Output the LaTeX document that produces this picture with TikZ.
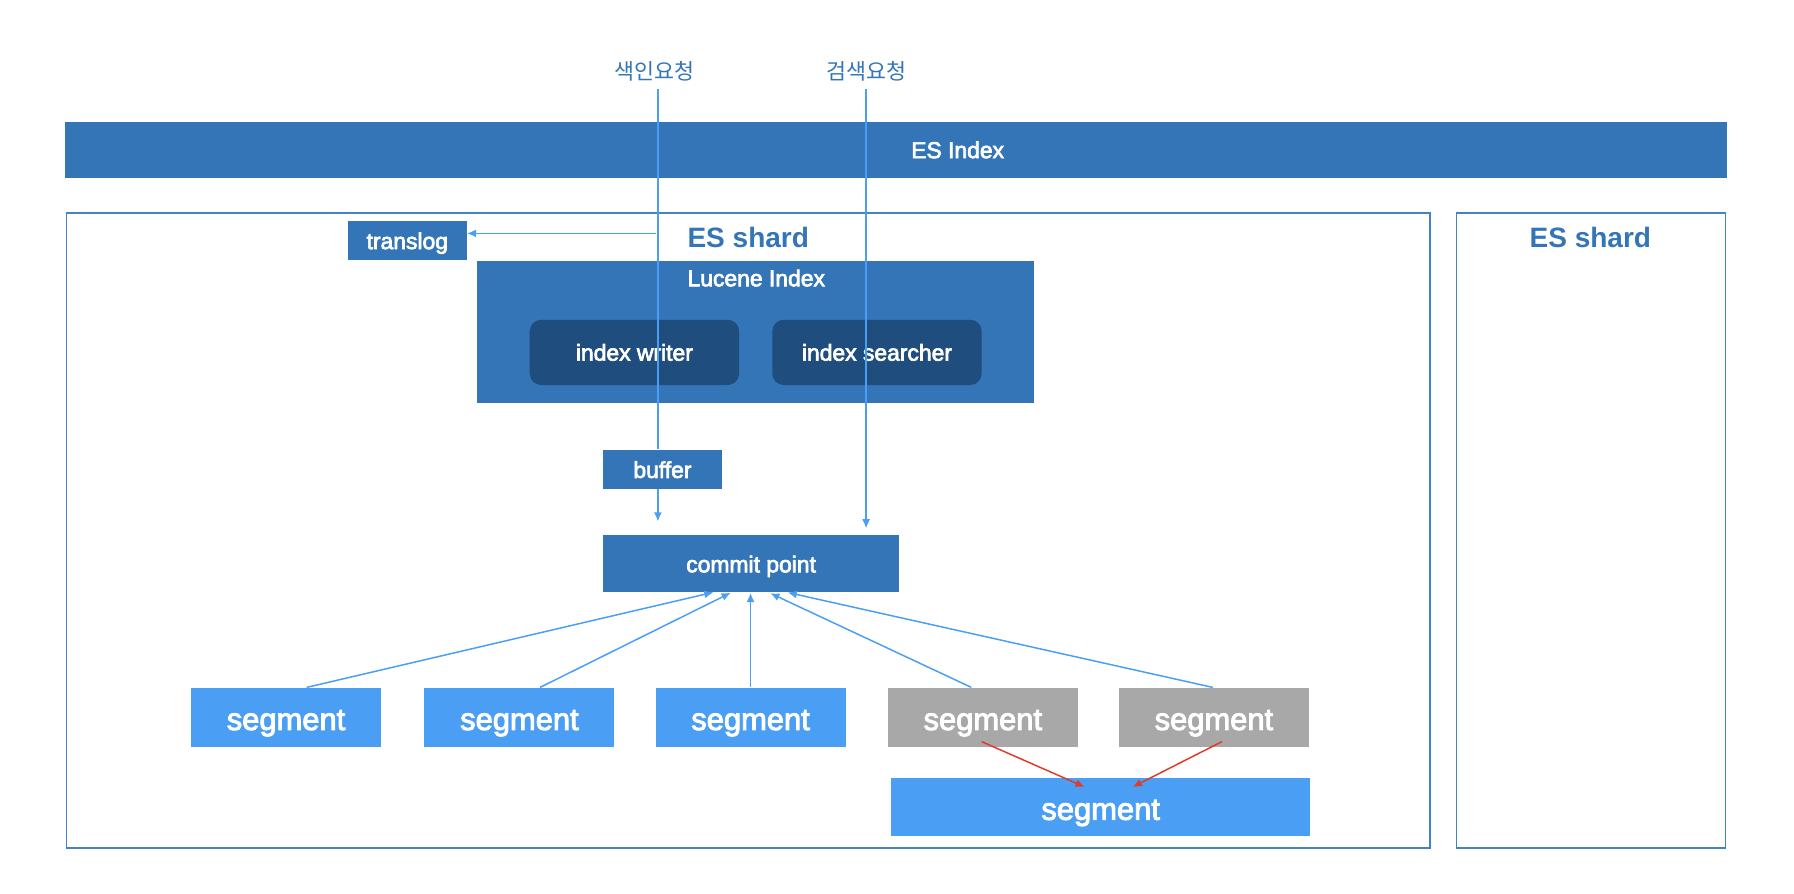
\documentclass[tikz,border=0pt]{standalone}
\usepackage{fontspec}
\setmainfont{Liberation Sans}
\newfontfamily\medfont{Liberation Sans}[FakeBold=3]
\newfontfamily\krfont{Noto Sans CJK KR}
\usetikzlibrary{arrows.meta,calc}
\definecolor{esblue}{RGB}{51,117,183}
\definecolor{darkblue}{RGB}{31,77,126}
\definecolor{segblue}{RGB}{74,159,245}
\definecolor{seggrey}{RGB}{168,168,168}
\definecolor{linkblue}{RGB}{74,159,245}
\definecolor{shardline}{RGB}{68,130,200}
\definecolor{mergered}{RGB}{222,60,40}
\tikzset{
  box/.style={draw=none, fill=esblue, text=white, inner sep=0pt, text height=15.4pt, text depth=0pt,
    font=\medfont\fontsize{20}{24}\selectfont},
  inner/.style={draw=none, fill=darkblue, text=white, inner sep=0pt, rounded corners=10pt,
    text height=14.4pt, text depth=0pt,
    minimum width=183pt, minimum height=57pt, font=\medfont\fontsize{20}{24}\selectfont},
  seg/.style={draw=none, fill=segblue, text=white, inner sep=0pt, text height=22pt, text depth=0pt,
    minimum width=166pt, minimum height=52pt, font=\medfont\fontsize{27}{30}\selectfont},
  oldseg/.style={seg, fill=seggrey},
  shard/.style={draw=shardline, line width=1.5pt, inner sep=0pt},
  shardlabel/.style={text=esblue, inner sep=0pt, text height=14.8pt, text depth=0pt,
    font=\bfseries\fontsize{24.5}{28}\selectfont},
  whitelabel/.style={text=white, inner sep=0pt, text height=12.4pt, text depth=0pt,
    font=\medfont\fontsize{20}{24}\selectfont},
  reqlabel/.style={text=esblue, inner sep=0pt, font=\krfont\fontsize{19}{22}\selectfont},
  link/.style={draw=linkblue, line width=1.3pt},
  linkarrow/.style={link, -{Latex[length=8pt,width=7pt]}},
  mergearrow/.style={draw=mergered, line width=1.3pt, -{Latex[length=8pt,width=7pt]}}
}
\begin{document}
\begin{tikzpicture}[x=1pt,y=-1pt]
\useasboundingbox (0,0) rectangle (1568,781);
% shards
\node[shard, minimum width=1192pt, minimum height=555pt] (shardA) at (654,463.5) {};
\node[shard, minimum width=235pt, minimum height=555pt] (shardB) at (1390.5,463.5) {};
\node[shardlabel] (shardAl) at (654,209) {ES shard};
\node[shardlabel] (shardBl) at (1390,209) {ES shard};
% ES index
\node[box, minimum width=1452pt, minimum height=49pt] (esindex) at (783,131.5) {};
\node[whitelabel] (esindexl) at (837,132) {ES Index};
% Lucene
\node[box, minimum width=487pt, minimum height=124pt] (lucene) at (660.5,290) {};
\node[whitelabel] (lucenel) at (661,244) {Lucene Index};
\node[inner] (writer) at (554.5,308) {index writer};
\node[inner] (searcher) at (766.5,308) {index searcher};
% translog
\node[box, minimum width=104pt, minimum height=34pt] (translog) at (356,210) {translog};
% buffer
\node[box, minimum width=104pt, minimum height=34pt] (buffer) at (579,410) {buffer};
% commit point
\node[box, minimum width=259pt, minimum height=49pt] (commit) at (656.5,492.5) {commit point};
% segments
\node[seg] (s1) at (250,627) {segment};
\node[seg] (s2) at (454,627) {segment};
\node[seg] (s3) at (656,627) {segment};
\node[oldseg] (s4) at (859,627) {segment};
\node[oldseg] (s5) at (1061,627) {segment};
\node[seg, minimum width=366pt, minimum height=51pt] (merged) at (962,705.5) {segment};
% request labels
\node[reqlabel] (idxreq) at (572,62) {색인요청};
\node[reqlabel] (srchreq) at (757,62) {검색요청};
\coordinate (lx) at (575,0);
\coordinate (sx) at (757,0);
\coordinate (tlstart) at (573,204);
% request lines
\draw[link, shorten <=7pt] (idxreq.south -| lx) -- (buffer.north -| lx);
\draw[linkarrow, shorten <=7pt, shorten >=6pt] (srchreq.south -| sx) -- (commit.north -| sx);
\draw[linkarrow] (tlstart) -- (tlstart -| translog.east);
\draw[linkarrow, shorten >=12pt] (buffer.south -| lx) -- (commit.north -| lx);
% segments to commit
\draw[linkarrow, shorten >=2pt] ($(s1.north)+(18,0)$) -- ($(commit.south)+(-31,0)$);
\draw[linkarrow, shorten >=2pt] ($(s2.north)+(18,0)$) -- ($(commit.south)+(-16,0)$);
\draw[linkarrow, shorten >=1pt] (s3.north) -- (s3.north |- commit.south);
\draw[linkarrow, shorten >=3pt] ($(s4.north)+(-10,0)$) -- ($(commit.south)+(14,0)$);
\draw[linkarrow, shorten >=3pt] ($(s5.north)+(-1,0)$) -- ($(commit.south)+(29,0)$);
% merge
\draw[mergearrow] ($(s4.south)+(-1,-5)$) -- ($(merged.north)+(-14,8)$);
\draw[mergearrow] ($(s5.south)+(7,-5)$) -- ($(merged.north)+(28,8)$);
\end{tikzpicture}
\end{document}
